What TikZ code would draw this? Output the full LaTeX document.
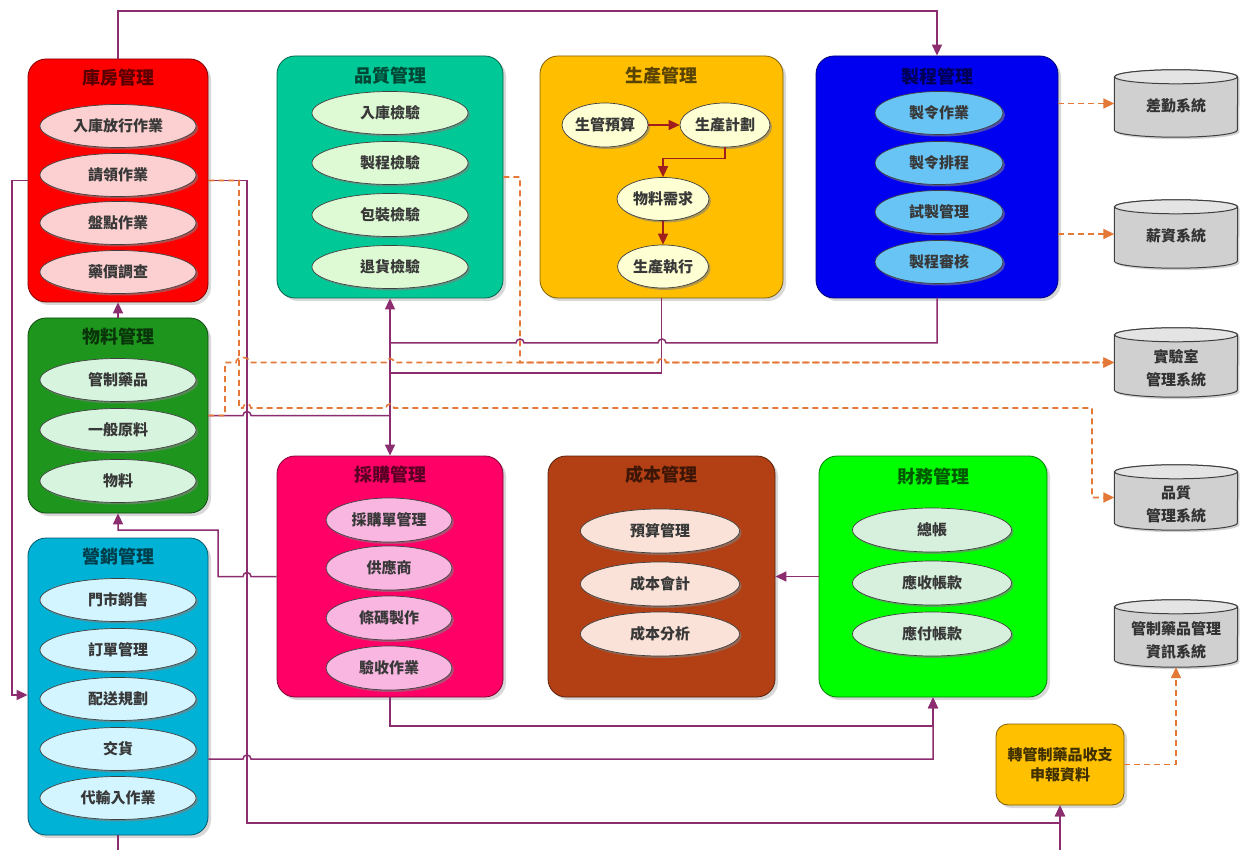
\documentclass[tikz,border=0pt]{standalone}
\usepackage{fontspec}
\setmainfont{Noto Sans CJK TC}
\usetikzlibrary{shapes.geometric,arrows.meta,shadows,calc}
\definecolor{cRed}{RGB}{255,0,0}
\definecolor{cRedE}{RGB}{252,208,208}
\definecolor{cTeal}{RGB}{0,200,150}
\definecolor{cTealE}{RGB}{222,250,212}
\definecolor{cOrg}{RGB}{255,190,0}
\definecolor{cOrgE}{RGB}{255,255,212}
\definecolor{cBlue}{RGB}{0,0,240}
\definecolor{cBlueE}{RGB}{104,196,245}
\definecolor{cGreen}{RGB}{30,150,30}
\definecolor{cGreenE}{RGB}{215,245,222}
\definecolor{cCyan}{RGB}{0,178,214}
\definecolor{cCyanE}{RGB}{210,245,255}
\definecolor{cPink}{RGB}{255,0,102}
\definecolor{cPinkE}{RGB}{248,182,225}
\definecolor{cBrown}{RGB}{178,64,20}
\definecolor{cBrownE}{RGB}{250,226,216}
\definecolor{cLime}{RGB}{0,255,0}
\definecolor{cLimeE}{RGB}{215,240,222}
\definecolor{cAmber}{RGB}{255,192,0}
\definecolor{lnP}{RGB}{140,45,112}
\definecolor{lnO}{RGB}{228,120,55}
\definecolor{lnR}{RGB}{160,30,30}
\definecolor{cylBody}{RGB}{208,208,208}
\definecolor{cylTop}{RGB}{228,228,228}
\tikzset{
  grp/.style={draw=#1!50!black, fill=#1, rounded corners=18pt, line width=0.8pt,
    drop shadow={shadow xshift=3pt,shadow yshift=-3pt,opacity=0.3}},
  ttl/.style={font=\fontsize{18}{20}\selectfont\bfseries, text=#1!35!black, inner sep=0pt},
  ell/.style={ellipse, draw=black!75, line width=0.7pt, fill=#1, inner sep=0pt,
    font=\fontsize{15}{18}\selectfont\bfseries, text=black!78,
    drop shadow={shadow xshift=2pt,shadow yshift=-2pt,opacity=0.6}},
  pl/.style={draw=lnP, line width=1.5pt},
  arr/.style={-{Triangle[length=11pt,width=10pt]}},
  dl/.style={draw=lnO, line width=1.6pt, dash pattern=on 6pt off 4pt},
  darr/.style={-{Triangle[length=11pt,width=10pt]}},
  rl/.style={draw=lnR, line width=1.4pt, -{Triangle[length=11pt,width=10pt]}},
  cylbox/.style={minimum width=123, minimum height=#1, inner sep=0pt, draw=none},
  cyltext/.style={font=\fontsize{15}{23}\selectfont\bfseries, text=black!80, align=center, inner sep=0pt},
  cylbody/.style={draw=black!75, line width=1pt, fill=cylBody,
    drop shadow={shadow xshift=2pt,shadow yshift=-2pt,opacity=0.35}},
  cyltop/.style={draw=black!75, line width=1pt, fill=cylTop}
}
\newcommand\drawcyl[1]{%
  \path[cylbody] ([yshift=-7pt]#1.north west) -- ([yshift=7pt]#1.south west)
    arc[start angle=180,end angle=360,x radius=61.5pt,y radius=7pt]
    -- ([yshift=-7pt]#1.north east)
    arc[start angle=0,end angle=180,x radius=61.5pt,y radius=7pt] -- cycle;
  \path[cyltop] ([yshift=-7pt]#1.north) ellipse[x radius=61.5pt,y radius=7pt];}
\begin{document}
\begin{tikzpicture}[x=1pt,y=-1pt]
\useasboundingbox[fill=white] (0,0) rectangle (1243,850);

% ---------- group boxes ----------
\node[grp=cRed,   minimum width=180, minimum height=243] (kf) at (118,180.5) {};
\node[grp=cGreen, minimum width=180, minimum height=195] (wl) at (118,415.5) {};
\node[grp=cCyan,  minimum width=180, minimum height=297] (yx) at (118,686.5) {};
\node[grp=cTeal,  minimum width=226, minimum height=242] (pz) at (390,177) {};
\node[grp=cOrg,   minimum width=243, minimum height=242] (sc) at (661.5,177) {};
\node[grp=cBlue,  minimum width=242, minimum height=242] (zc) at (937,177) {};
\node[grp=cPink,  minimum width=226, minimum height=241] (cg) at (390,576.5) {};
\node[grp=cBrown, minimum width=227, minimum height=241] (cb) at (661.5,576.5) {};
\node[grp=cLime,  minimum width=228, minimum height=241] (cw) at (933,576.5) {};
\node[grp=cAmber, rounded corners=12pt, minimum width=128, minimum height=81,
      align=center, font=\fontsize{15}{20}\selectfont\bfseries, text=cAmber!25!black] (zg) at (1060,764.5)
      {轉管制藥品收支\\申報資料};

% ---------- titles ----------
\node[ttl=cRed]   (kft) at (118,78)  {庫房管理};
\node[ttl=cGreen] (wlt) at (118,337) {物料管理};
\node[ttl=cCyan]  (yxt) at (118,557) {營銷管理};
\node[ttl=cTeal]  (pzt) at (390,76)  {品質管理};
\node[ttl=cOrg]   (sct) at (661.5,76) {生產管理};
\node[ttl=cBlue]  (zct) at (937,77)  {製程管理};
\node[ttl=cPink]  (cgt) at (390,475) {採購管理};
\node[ttl=cBrown] (cbt) at (661.5,475) {成本管理};
\node[ttl=cLime]  (cwt) at (933,477) {財務管理};

% ---------- ellipses ----------
\begin{scope}[every node/.append style={minimum width=156, minimum height=43}]
\node[ell=cRedE] (k1) at (118,126) {入庫放行作業};
\node[ell=cRedE] (k2) at (118,175) {請領作業};
\node[ell=cRedE] (k3) at (118,223) {盤點作業};
\node[ell=cRedE] (k4) at (118,272) {藥價調查};
\node[ell=cGreenE] (w1) at (118,380) {管制藥品};
\node[ell=cGreenE] (w2) at (118,430) {一般原料};
\node[ell=cGreenE] (w3) at (118,481) {物料};
\node[ell=cCyanE] (y1) at (118,600) {門市銷售};
\node[ell=cCyanE] (y2) at (118,650) {訂單管理};
\node[ell=cCyanE] (y3) at (118,699) {配送規劃};
\node[ell=cCyanE] (y4) at (118,749) {交貨};
\node[ell=cCyanE] (y5) at (118,798) {代輸入作業};
\node[ell=cTealE] (p1) at (390,113) {入庫檢驗};
\node[ell=cTealE] (p2) at (390,163) {製程檢驗};
\node[ell=cTealE] (p3) at (390,215) {包裝檢驗};
\node[ell=cTealE] (p4) at (390,267) {退貨檢驗};
\end{scope}
\begin{scope}[every node/.append style={minimum width=128, minimum height=43}]
\node[ell=cBlueE] (z1) at (939,113) {製令作業};
\node[ell=cBlueE] (z2) at (939,163) {製令排程};
\node[ell=cBlueE] (z3) at (939,212) {試製管理};
\node[ell=cBlueE] (z4) at (939,262) {製程審核};
\end{scope}
\begin{scope}[every node/.append style={minimum width=126, minimum height=44}]
\node[ell=cPinkE] (g1) at (389,520) {採購單管理};
\node[ell=cPinkE] (g2) at (389,568) {供應商};
\node[ell=cPinkE] (g3) at (389,618) {條碼製作};
\node[ell=cPinkE] (g4) at (389,668) {驗收作業};
\end{scope}
\begin{scope}[every node/.append style={minimum width=159, minimum height=44}]
\node[ell=cBrownE] (b1e) at (660,531) {預算管理};
\node[ell=cBrownE] (b2e) at (660,584) {成本會計};
\node[ell=cBrownE] (b3e) at (660,634) {成本分析};
\node[ell=cLimeE] (f1) at (932,530) {總帳};
\node[ell=cLimeE] (f2) at (932,583) {應收帳款};
\node[ell=cLimeE] (f3) at (932,634) {應付帳款};
\end{scope}
\node[ell=cOrgE, minimum width=86, minimum height=44] (s1) at (605,125) {生管預算};
\node[ell=cOrgE, minimum width=90, minimum height=44] (s2) at (725,125) {生產計劃};
\node[ell=cOrgE, minimum width=92, minimum height=43] (s3) at (663,199) {物料需求};
\node[ell=cOrgE, minimum width=91, minimum height=43] (s4) at (663,266.5) {生產執行};

% production internal arrows
\draw[rl] (s1) -- (s2);
\draw[rl] (s2.south) -- ++(0,11) -| (s3.north);
\draw[rl] (s3) -- (s4);

% ---------- cylinders ----------
\node[cylbox=67] (cy1) at (1176,103.5) {};
\node[cylbox=68] (cy2) at (1176,234) {};
\node[cylbox=69] (cy3) at (1176,362.5) {};
\node[cylbox=65] (cy4) at (1176,497.5) {};
\node[cylbox=67] (cy5) at (1176,633.5) {};
\drawcyl{cy1}\drawcyl{cy2}\drawcyl{cy3}\drawcyl{cy4}\drawcyl{cy5}
\node[cyltext] (cy1t) at ([yshift=-2pt]cy1.center) {差勤系統};
\node[cyltext] (cy2t) at ([yshift=-2pt]cy2.center) {薪資系統};
\node[cyltext] (cy3t) at ([yshift=-6pt]cy3.center) {實驗室\\管理系統};
\node[cyltext] (cy4t) at ([yshift=-7pt]cy4.center) {品質\\管理系統};
\node[cyltext] (cy5t) at ([yshift=-7pt]cy5.center) {管制藥品管理\\資訊系統};

% ---------- coordinates ----------
\coordinate (top1) at (118,11);
\coordinate (a3) at (218,530);
\coordinate (a4) at (247,823);
\coordinate (a5) at (12,695);
\coordinate (a6) at (1060,857);
\coordinate (a8) at (933,726);
\coordinate (a9) at (933,759);
\coordinate (b1) at (390,343);
\coordinate (b2) at (390,373);
\coordinate (b3) at (390,415.5);
\coordinate (d1) at (520,362.5);
\coordinate (d2) at (225,362.5);
\coordinate (d3) at (239,408);
\coordinate (d4) at (1092,408);

% ---------- solid purple connectors ----------
\draw[pl,arr] (kf.north) -- (top1) -| (zc.north);
\draw[pl,arr] (wl.north) -- (kf.south);
\draw[pl,arr] (cg.west) -- (251,576.5) arc[start angle=0,end angle=180,radius=4pt]
   -- (a3 |- cg.west) -- (a3) -| (wl.south);
\draw[pl,arr] (kf.east) -| (a4) -| (zg.south);
\draw[pl,arr] (kf.west) -| (a5) -- (a5 -| yx.west);
\draw[pl,arr] (yx.south) |- (a6) -- (zg.south);
\draw[pl] (zc.south) |- (666,343) arc[start angle=0,end angle=180,radius=4pt]
   -- (524,343) arc[start angle=0,end angle=180,radius=4pt] -- (b1);
\draw[pl] (sc.south) |- (b2);
\draw[pl] (wl.east) -- (243,415.5) arc[start angle=180,end angle=0,radius=4pt] -- (b3);
\draw[pl,{Triangle[length=11pt,width=10pt]}-{Triangle[length=11pt,width=10pt]}] (pz.south) -- (cg.north);
\draw[pl,arr] (cg.south) |- (a8) -- (cw.south);
\draw[pl,arr] (a9 -| yx.east) -- (243,759) arc[start angle=180,end angle=0,radius=4pt] -- (a9) -- (cw.south);
\draw[pl,arr] (cw.west) -- (cb.east);

% ---------- dashed orange connectors ----------
\draw[dl,darr] (cy1.west -| zc.east) -- (cy1.west);
\draw[dl,darr] (cy2.west -| zc.east) -- (cy2.west);
\draw[dl,darr] (pz.east) -| (d1) -- (658,362.5) arc[start angle=180,end angle=0,radius=4pt] -- (cy3.west);
\draw[dl,darr] (wl.east) -| (d2) -- (236,362.5) arc[start angle=180,end angle=0,x radius=7pt,y radius=5pt]
   -- (386,362.5) arc[start angle=180,end angle=0,radius=4pt] -- (d1)
   -- (658,362.5) arc[start angle=180,end angle=0,radius=4pt] -- (cy3.west);
\draw[dl,darr] (kf.east) -| (d3) -- (243,408) arc[start angle=180,end angle=0,radius=4pt]
   -- (386,408) arc[start angle=180,end angle=0,radius=4pt] -- (d4) |- (cy4.west);
\draw[dl,darr] (zg.east) -| (cy5.south);
\end{tikzpicture}
\end{document}
